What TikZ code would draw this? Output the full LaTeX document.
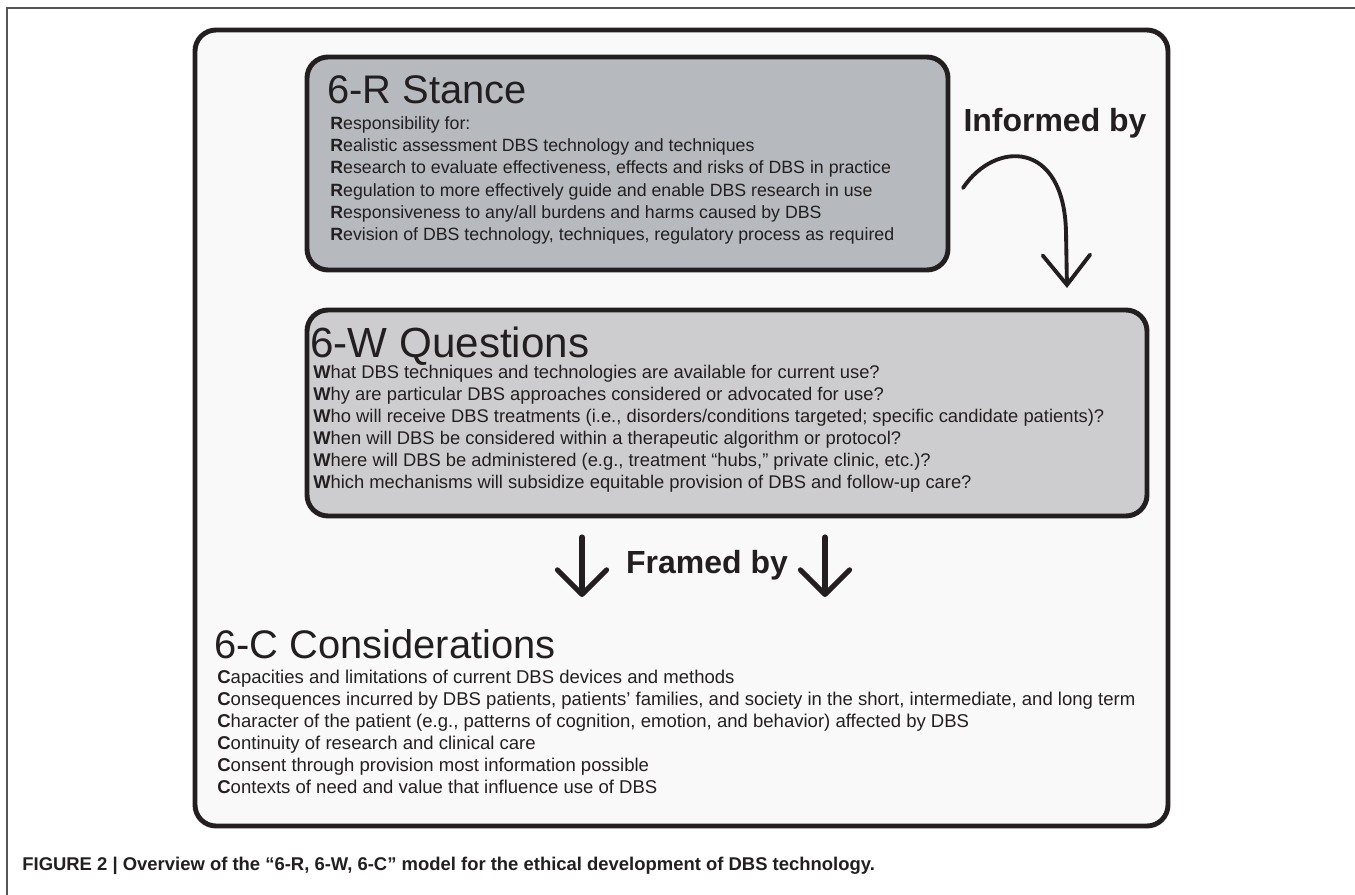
\documentclass[tikz,border=0pt]{standalone}
\usepackage{fontspec}
\setmainfont{Liberation Sans}
\usepackage{tikz}
\usetikzlibrary{arrows.meta, positioning}

\definecolor{inkline}{HTML}{231F20}
\definecolor{framegrey}{HTML}{555555}
\definecolor{paperfill}{HTML}{F9F9F9}
\definecolor{stancefill}{HTML}{B6B9BD}
\definecolor{questfill}{HTML}{CDCDD0}

\tikzset{
  panel/.style={draw=inkline, line width=2.8pt, rounded corners=12pt},
  heading/.style={font=\fontsize{22.7}{26}\selectfont, text=inkline, anchor=base west, inner sep=0pt},
  entry/.style={font=\fontsize{10.2}{12.5}\selectfont, text=inkline, anchor=base west, inner sep=0pt},
  cue/.style={font=\bfseries\fontsize{18.2}{21}\selectfont, text=inkline, inner sep=0pt},
  bigarrow/.style={draw=inkline, line width=2.9pt, line cap=round,
    -{Straight Barb[length=14pt, width=28pt, line cap=round, line join=round]}},
}

\begin{document}
\begin{tikzpicture}[x=0.02cm, y=-0.02cm]
    \useasboundingbox (0,0) rectangle (1355,895);
    \fill[white] (0,0) rectangle (1355,895);
    \draw[framegrey, line width=1.1pt] (7,895) -- (7,8) -- (1355,8);

    % panels
    \draw[panel, fill=paperfill] (195,30) rectangle (1168,826);
    \draw[panel, fill=stancefill] (307,57) rectangle (948,270);
    \draw[panel, fill=questfill] (307,310) rectangle (1147,516);

    % 6-R
    \node[heading] (rhead) at (327,104) {6-R Stance};
    \foreach \t [count=\i] in {{\textbf{R}esponsibility for:},
        {\textbf{R}ealistic assessment DBS technology and techniques},
        {\textbf{R}esearch to evaluate effectiveness, effects and risks of DBS in practice},
        {\textbf{R}egulation to more effectively guide and enable DBS research in use},
        {\textbf{R}esponsiveness to any/all burdens and harms caused by DBS},
        {\textbf{R}evision of DBS technology, techniques, regulatory process as required}}
      \node[entry, font=\fontsize{10.1}{12.5}\selectfont] (r\i) at (330,108+22*\i) {\t};

    % 6-W
    \node[heading, font=\fontsize{24}{27}\selectfont] (whead) at (310,357) {6-W Questions};
    \foreach \t [count=\i] in {{\textbf{W}hat DBS techniques and technologies are available for current use?},
        {\textbf{W}hy are particular DBS approaches considered or advocated for use?},
        {\textbf{W}ho will receive DBS treatments (i.e., disorders/conditions targeted; specific candidate patients)?},
        {\textbf{W}hen will DBS be considered within a therapeutic algorithm or protocol?},
        {\textbf{W}here will DBS be administered (e.g., treatment “hubs,” private clinic, etc.)?},
        {\textbf{W}hich mechanisms will subsidize equitable provision of DBS and follow-up care?}}
      \node[entry, font=\fontsize{10.45}{12.5}\selectfont] (w\i) at (313,356+22*\i) {\t};

    % 6-C
    \node[heading] (chead) at (214,658) {6-C Considerations};
    \foreach \t [count=\i] in {{\textbf{C}apacities and limitations of current DBS devices and methods},
        {\textbf{C}onsequences incurred by DBS patients, patients’ families, and society in the short, intermediate, and long term},
        {\textbf{C}haracter of the patient (e.g., patterns of cognition, emotion, and behavior) affected by DBS},
        {\textbf{C}ontinuity of research and clinical care},
        {\textbf{C}onsent through provision most information possible},
        {\textbf{C}ontexts of need and value that influence use of DBS}}
      \node[entry, font=\fontsize{10.55}{12.5}\selectfont] (c\i) at (217,661+22*\i) {\t};

    % connectors
    \node[cue] (informed) at (1055,123) {Informed by};
    \coordinate (bendstart) at (963,188);
    \coordinate (bendend) at (1067,288);
    \draw[draw=inkline, line width=2.2pt, line cap=round,
      -{Straight Barb[length=17pt, width=27pt, line cap=round]}]
      (bendstart) .. controls (995,140) and (1064,140) .. (1066,232) -- (bendend);

    \node[cue] (framed) at (707,565) {Framed by};
    \coordinate (lefttop) at (582,537);
    \coordinate (leftend) at (582,597);
    \coordinate (righttop) at (825,537);
    \coordinate (rightend) at (825,597);
    \draw[bigarrow] (lefttop) -- (leftend);
    \draw[bigarrow] (righttop) -- (rightend);

    % caption
    \node[anchor=base west, inner sep=0pt, text=inkline, font=\bfseries\fontsize{10.5}{12}\selectfont] (caption) at (22,870)
      {FIGURE 2 | Overview of the “6-R, 6-W, 6-C” model for the ethical development of DBS technology.};
\end{tikzpicture}
\end{document}
